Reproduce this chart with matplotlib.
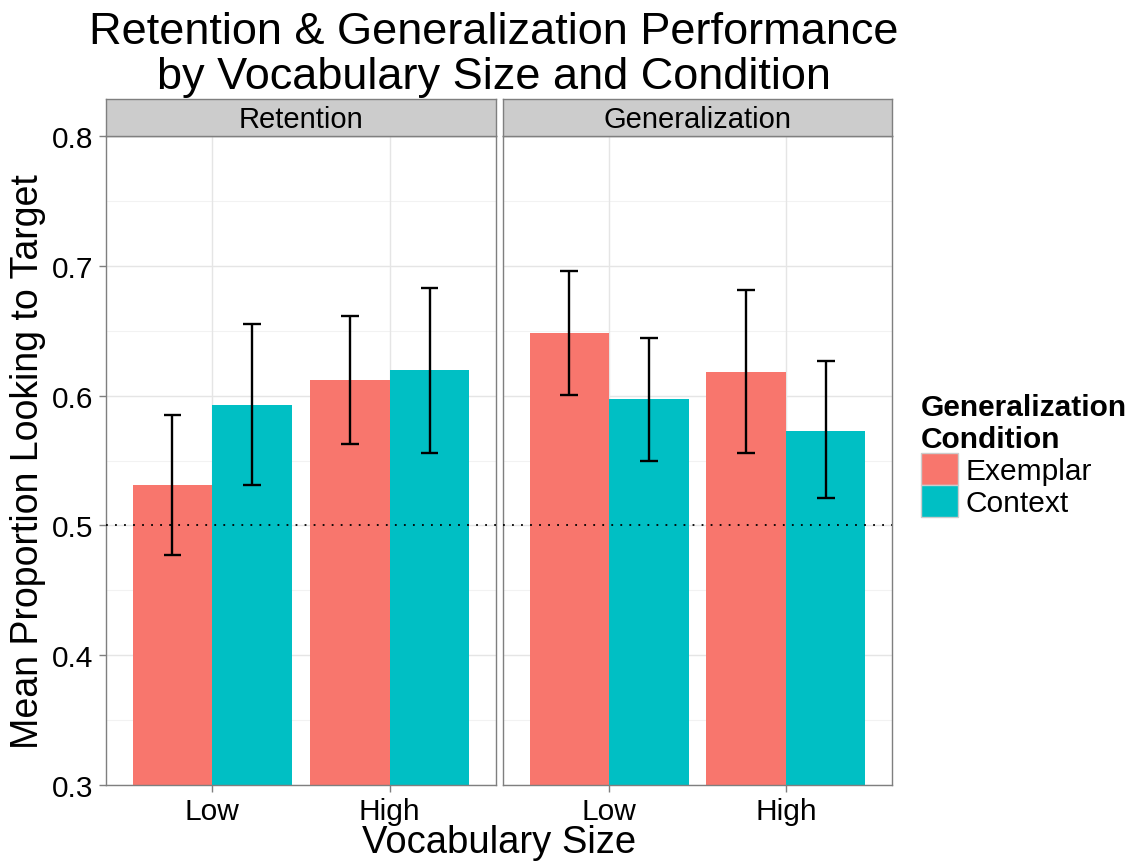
import numpy as np
import matplotlib
matplotlib.use("Agg")
import matplotlib.pyplot as plt
from matplotlib.patches import Patch

plt.rcParams['font.family'] = ['Liberation Sans', 'DejaVu Sans']

# Dados
panels = ["Retention", "Generalization"]
vocab = ["Low", "High"]
conditions = ["Exemplar", "Context"]
colors = ["#F8766D", "#00BFC4"]

# medias por painel (Low, High)
ret_exemplar = [0.531, 0.612]
ret_context = [0.593, 0.6195]
gen_exemplar = [0.648, 0.618]
gen_context = [0.597, 0.573]

# limites das barras de erro
ret_exemplar_lo = [0.477, 0.563]
ret_exemplar_hi = [0.585, 0.661]
ret_context_lo = [0.531, 0.556]
ret_context_hi = [0.655, 0.683]
gen_exemplar_lo = [0.6005, 0.556]
gen_exemplar_hi = [0.696, 0.681]
gen_context_lo = [0.550, 0.521]
gen_context_hi = [0.644, 0.627]

means = {
    "Retention": [ret_exemplar, ret_context],
    "Generalization": [gen_exemplar, gen_context],
}
lows = {
    "Retention": [ret_exemplar_lo, ret_context_lo],
    "Generalization": [gen_exemplar_lo, gen_context_lo],
}
highs = {
    "Retention": [ret_exemplar_hi, ret_context_hi],
    "Generalization": [gen_exemplar_hi, gen_context_hi],
}

W, H = 1139, 862
fig = plt.figure(figsize=(W / 100, H / 100), dpi=100)

def fx(px):
    return px / W

def fy(py):
    return 1 - py / H

panel_x = [(106, 496), (503, 892)]
top, bottom = 137, 786
strip_top = 100

x = np.arange(1, 3)
bw = 0.45

for k, name in enumerate(panels):
    x0, x1 = panel_x[k]
    ax = fig.add_axes([fx(x0), fy(bottom), fx(x1 - x0), fy(top) - fy(bottom)])
    ax.set_xlim(0.4, 2.6)
    ax.set_ylim(0.3, 0.8)

    # grades
    for v in np.arange(0.35, 0.8, 0.1):
        ax.axhline(v, color="#F2F2F2", lw=0.8, zorder=0)
    for v in np.arange(0.3, 0.81, 0.1):
        ax.axhline(v, color="#E5E5E5", lw=1.0, zorder=0)
    for v in x:
        ax.axvline(v, color="#E5E5E5", lw=1.0, zorder=0)

    for j, cond in enumerate(conditions):
        pos = x + (j - 0.5) * bw
        m = np.array(means[name][j])
        ax.bar(pos, m - 0.3, bottom=0.3, width=bw, color=colors[j], zorder=2)
        lo = np.array(lows[name][j])
        hi = np.array(highs[name][j])
        ax.vlines(pos, lo, hi, color="black", lw=1.7, zorder=3)
        ax.hlines(lo, pos - 0.05, pos + 0.05, color="black", lw=1.7, zorder=3)
        ax.hlines(hi, pos - 0.05, pos + 0.05, color="black", lw=1.7, zorder=3)

    ax.axhline(0.5, color="black", lw=1.3, ls=(0, (1, 4)), zorder=4)

    for s in ax.spines.values():
        s.set_color("#7F7F7F")
        s.set_linewidth(1.0)
    ax.set_xticks(x)
    ax.set_xticklabels(vocab, fontsize=21.5)
    ax.tick_params(axis="both", colors="#7F7F7F", length=5, width=1.0, labelcolor="black", pad=4)
    ax.set_yticks([0.3, 0.4, 0.5, 0.6, 0.7, 0.8])
    if k == 0:
        ax.set_yticklabels(["0.3", "0.4", "0.5", "0.6", "0.7", "0.8"], fontsize=21.5)
        ax.set_ylabel("Mean Proportion Looking to Target", fontsize=27, labelpad=4)
    else:
        ax.set_yticklabels([])
        ax.tick_params(axis="y", length=0)

    # faixa do painel
    sax = fig.add_axes([fx(x0), fy(top), fx(x1 - x0), fy(strip_top) - fy(top)])
    sax.set_facecolor("#CCCCCC")
    sax.set_xticks([])
    sax.set_yticks([])
    for s in sax.spines.values():
        s.set_color("#7F7F7F")
        s.set_linewidth(1.0)
    sax.text(0.5, 0.47, name, ha="center", va="center", fontsize=21, transform=sax.transAxes)

fig.text(fx(499), fy(843), "Vocabulary Size", ha="center", va="center", fontsize=27.5)
fig.text(fx(494), fy(55), "Retention & Generalization Performance\nby Vocabulary Size and Condition",
         ha="center", va="center", fontsize=32.5, linespacing=1.1)

# legenda
handles = [Patch(facecolor=c, edgecolor="#CCCCCC", label=l) for c, l in zip(colors, conditions)]
leg = fig.legend(handles=handles, loc="upper left", bbox_to_anchor=(fx(909), fy(382)),
                 title="Generalization\nCondition", fontsize=21.5, title_fontsize=21.5,
                 frameon=False, handlelength=1.25, handleheight=1.25, handletextpad=0.25,
                 labelspacing=0.0, borderaxespad=0)
leg.get_title().set_fontweight("bold")
leg._legend_box.align = "left"

fig.savefig("out.png", dpi=100)
